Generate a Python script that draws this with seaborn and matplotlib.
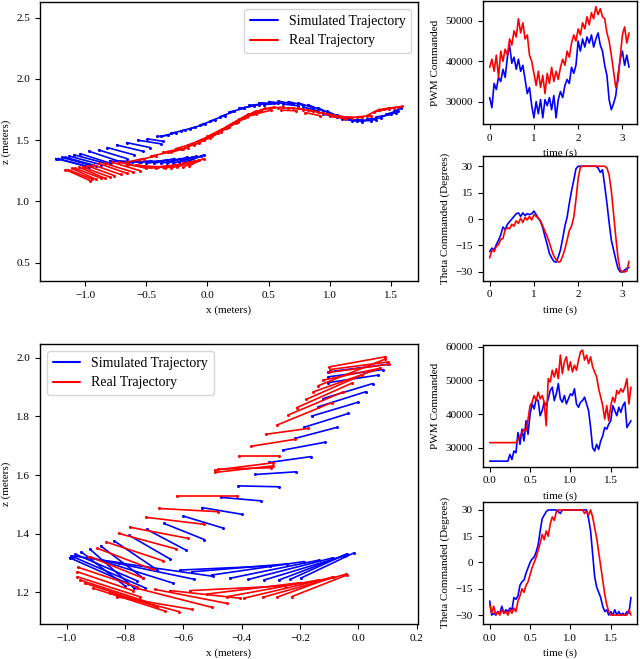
import numpy as np
import pandas as pd
import matplotlib
matplotlib.use("Agg")
import matplotlib.pyplot as plt
from matplotlib.lines import Line2D
import seaborn as sns

# ---------------- data ----------------
# trajectory segments: (x_start, z_start, x_end, z_end) in meters
sim_top_segments = [
    (-1.24, 1.35, -1.00, 1.29), (-1.22, 1.35, -0.97, 1.28), (-1.19, 1.36, -0.94, 1.29),
    (-1.16, 1.36, -0.91, 1.29), (-1.13, 1.37, -0.87, 1.30), (-1.09, 1.38, -0.83, 1.31),
    (-1.04, 1.39, -0.79, 1.31), (-0.97, 1.41, -0.73, 1.33), (-0.89, 1.42, -0.66, 1.35),
    (-0.82, 1.44, -0.60, 1.38), (-0.74, 1.46, -0.53, 1.41), (-0.66, 1.48, -0.47, 1.44),
    (-0.57, 1.50, -0.38, 1.47), (-0.49, 1.51, -0.36, 1.49), (-0.41, 1.53, -0.32, 1.54),
    (-0.38, 1.530, -0.26, 1.560), (-0.30, 1.556, -0.18, 1.583), (-0.22, 1.575, -0.10, 1.605),
    (-0.14, 1.595, -0.02, 1.630), (-0.06, 1.624, 0.06, 1.665), (0.02, 1.655, 0.14, 1.700),
    (0.10, 1.690, 0.22, 1.735), (0.18, 1.730, 0.30, 1.760), (0.26, 1.760, 0.38, 1.780),
    (0.34, 1.785, 0.46, 1.795), (0.42, 1.805, 0.54, 1.800), (0.50, 1.815, 0.62, 1.800),
    (0.58, 1.818, 0.70, 1.795), (0.66, 1.815, 0.78, 1.785), (0.74, 1.805, 0.86, 1.765),
    (0.82, 1.790, 0.94, 1.740), (0.90, 1.765, 1.02, 1.710), (0.98, 1.735, 1.10, 1.680),
    (1.06, 1.705, 1.18, 1.660), (1.14, 1.682, 1.26, 1.652), (1.22, 1.668, 1.34, 1.660),
    (1.30, 1.672, 1.42, 1.680), (1.38, 1.690, 1.50, 1.710), (1.46, 1.712, 1.56, 1.740),
    (1.52, 1.735, 1.58, 1.760),
    (0.30, 1.765, 0.42, 1.790), (0.46, 1.790, 0.58, 1.800), (0.62, 1.795, 0.74, 1.780),
    (0.78, 1.770, 0.90, 1.740), (0.94, 1.715, 1.06, 1.685), (1.10, 1.672, 1.22, 1.655),
    (1.26, 1.655, 1.38, 1.668), (1.42, 1.690, 1.54, 1.725),
    (-0.80, 1.33, -0.62, 1.32), (-0.72, 1.33, -0.54, 1.32), (-0.64, 1.32, -0.46, 1.33),
    (-0.56, 1.32, -0.40, 1.33), (-0.50, 1.31, -0.33, 1.34), (-0.44, 1.31, -0.27, 1.35),
    (-0.38, 1.31, -0.22, 1.35), (-0.33, 1.31, -0.17, 1.36), (-0.28, 1.31, -0.13, 1.36),
    (-0.23, 1.32, -0.09, 1.37), (-0.19, 1.32, -0.05, 1.37), (-0.15, 1.33, -0.03, 1.38),
]
real_top_segments = [
    (-1.16, 1.26, -0.96, 1.17), (-1.14, 1.26, -0.94, 1.18), (-1.11, 1.27, -0.91, 1.18),
    (-1.08, 1.27, -0.87, 1.19), (-1.05, 1.28, -0.84, 1.19), (-1.02, 1.28, -0.80, 1.20),
    (-0.98, 1.29, -0.76, 1.21), (-0.94, 1.30, -0.71, 1.22), (-0.89, 1.31, -0.66, 1.23),
    (-0.84, 1.31, -0.61, 1.24), (-0.78, 1.32, -0.55, 1.25), (-0.72, 1.32, -0.50, 1.27),
    (-0.66, 1.30, -0.48, 1.28), (-0.58, 1.30, -0.42, 1.27), (-0.52, 1.29, -0.36, 1.28),
    (-0.46, 1.28, -0.30, 1.29), (-0.40, 1.28, -0.25, 1.30), (-0.35, 1.27, -0.20, 1.31),
    (-0.30, 1.27, -0.16, 1.32), (-0.25, 1.28, -0.11, 1.33), (-0.20, 1.28, -0.07, 1.34),
    (-0.15, 1.29, -0.03, 1.35),
    (-0.66, 1.32, -0.52, 1.35), (-0.56, 1.34, -0.42, 1.37), (-0.46, 1.37, -0.32, 1.40),
    (-0.36, 1.40, -0.22, 1.43), (-0.26, 1.43, -0.12, 1.47), (-0.16, 1.46, -0.03, 1.51),
    (-0.08, 1.49, 0.05, 1.55), (0.00, 1.53, 0.12, 1.59), (0.07, 1.56, 0.19, 1.63),
    (0.14, 1.60, 0.26, 1.67), (0.21, 1.64, 0.33, 1.71), (0.28, 1.68, 0.40, 1.74),
    (0.35, 1.71, 0.47, 1.76), (0.42, 1.74, 0.54, 1.77), (0.50, 1.76, 0.62, 1.77),
    (0.58, 1.765, 0.70, 1.76), (0.66, 1.765, 0.78, 1.75), (0.74, 1.76, 0.86, 1.735),
    (0.82, 1.745, 0.94, 1.72), (0.90, 1.73, 1.02, 1.705), (0.98, 1.715, 1.10, 1.69),
    (1.06, 1.70, 1.18, 1.68), (1.14, 1.69, 1.26, 1.685), (1.22, 1.69, 1.34, 1.70),
    (1.30, 1.70, 1.40, 1.75), (1.36, 1.73, 1.48, 1.755), (1.40, 1.75, 1.52, 1.765),
    (1.44, 1.755, 1.56, 1.77), (1.48, 1.76, 1.59, 1.775),
    (-0.30, 1.40, -0.16, 1.44), (-0.20, 1.43, -0.07, 1.48), (-0.11, 1.46, 0.02, 1.52),
    (-0.03, 1.50, 0.09, 1.56), (0.04, 1.53, 0.16, 1.60), (0.11, 1.57, 0.23, 1.64),
    (0.18, 1.61, 0.30, 1.68), (0.25, 1.65, 0.37, 1.71), (0.32, 1.69, 0.44, 1.735),
    (0.40, 1.715, 0.52, 1.745), (0.60, 1.745, 0.72, 1.74), (0.80, 1.725, 0.92, 1.70),
    (1.00, 1.695, 1.12, 1.675),
]
sim_bottom_segments = [
    (-0.103, 1.952, 0.103, 1.978), (-0.103, 1.935, 0.086, 1.960), (-0.105, 1.915, 0.069, 1.941),
    (-0.120, 1.861, 0.049, 1.912), (-0.137, 1.833, 0.025, 1.884), (-0.160, 1.801, -0.002, 1.848),
    (-0.186, 1.763, -0.034, 1.810), (-0.217, 1.725, -0.072, 1.763), (-0.259, 1.685, -0.114, 1.712),
    (-0.305, 1.643, -0.162, 1.663), (-0.354, 1.602, -0.214, 1.611), (-0.411, 1.563, -0.272, 1.560),
    (-0.472, 1.524, -0.334, 1.512), (-0.536, 1.489, -0.398, 1.466), (-0.600, 1.460, -0.463, 1.419),
    (-0.666, 1.435, -0.528, 1.380), (-0.726, 1.415, -0.591, 1.344), (-0.785, 1.394, -0.646, 1.314),
    (-0.838, 1.376, -0.689, 1.276), (-0.883, 1.358, -0.737, 1.248), (-0.920, 1.347, -0.768, 1.214),
    (-0.950, 1.338, -0.800, 1.222), (-0.970, 1.330, -0.760, 1.240), (-0.980, 1.322, -0.730, 1.215),
    (-0.990, 1.318, -0.790, 1.230), (-0.985, 1.325, -0.810, 1.300),
    (-0.920, 1.320, -0.634, 1.231), (-0.880, 1.310, -0.565, 1.245), (-0.820, 1.300, -0.500, 1.255),
    (-0.611, 1.276, -0.303, 1.290), (-0.571, 1.270, -0.243, 1.297), (-0.503, 1.259, -0.186, 1.305),
    (-0.440, 1.248, -0.134, 1.310), (-0.377, 1.244, -0.086, 1.318), (-0.323, 1.242, -0.046, 1.325),
    (-0.272, 1.242, -0.046, 1.327), (-0.234, 1.244, -0.040, 1.331), (-0.198, 1.248, -0.014, 1.335),
]
real_bottom_segments = [
    (-0.099, 1.969, 0.091, 2.003), (-0.097, 1.960, 0.103, 1.986), (-0.100, 1.950, 0.105, 1.978),
    (-0.120, 1.924, 0.074, 1.964), (-0.137, 1.905, 0.091, 1.995), (-0.154, 1.884, 0.074, 1.964),
    (-0.179, 1.858, 0.011, 1.941), (-0.211, 1.830, -0.023, 1.913), (-0.240, 1.805, -0.051, 1.884),
    (-0.280, 1.770, -0.091, 1.847), (-0.318, 1.739, -0.171, 1.759), (-0.369, 1.698, -0.217, 1.722),
    (-0.410, 1.665, -0.271, 1.665), (-0.491, 1.617, -0.291, 1.642), (-0.491, 1.609, -0.294, 1.631),
    (-0.480, 1.620, -0.300, 1.625),
    (-0.623, 1.528, -0.417, 1.528), (-0.682, 1.486, -0.480, 1.475), (-0.729, 1.456, -0.529, 1.432),
    (-0.783, 1.422, -0.583, 1.384), (-0.822, 1.401, -0.625, 1.348), (-0.865, 1.372, -0.671, 1.308),
    (-0.895, 1.350, -0.705, 1.278), (-0.922, 1.322, -0.737, 1.248), (-0.960, 1.285, -0.760, 1.219),
    (-0.963, 1.270, -0.774, 1.206), (-0.963, 1.253, -0.749, 1.185), (-0.954, 1.242, -0.726, 1.168),
    (-0.937, 1.231, -0.691, 1.151), (-0.909, 1.214, -0.663, 1.136), (-0.851, 1.197, -0.614, 1.134),
    (-0.829, 1.185, -0.571, 1.142), (-0.760, 1.214, -0.503, 1.149), (-0.697, 1.210, -0.449, 1.162),
    (-0.646, 1.206, -0.406, 1.180),
    (-0.577, 1.206, -0.251, 1.222), (-0.520, 1.194, -0.198, 1.233), (-0.451, 1.185, -0.137, 1.242),
    (-0.392, 1.180, -0.091, 1.251), (-0.328, 1.183, -0.042, 1.262), (-0.280, 1.183, -0.086, 1.253),
    (-0.229, 1.185, -0.040, 1.259),
]

# commanded inputs, top run (sampled every 0.05 s)
top_dt = 0.05
pwm_sim_top = [31000, 28500, 34500, 33000, 36000, 35000, 38000, 36000, 41000, 44000,
               39500, 41000, 38000, 40500, 37500, 39000, 35500, 32000, 33500, 29000,
               26000, 30000, 27000, 30500, 26000, 30500, 29000, 31000, 28000, 31500,
               26000, 30500, 32500, 31000, 34000, 35500, 34500, 38500, 37000, 39000,
               45000, 42500, 45500, 43500, 46000, 44500, 46500, 43500, 45500, 47000,
               44000, 42500, 39000, 36500, 30500, 28000, 29500, 31500, 36500, 40500,
               42500, 39000, 41500, 38500]
pwm_real_top = [38500, 40500, 37500, 41500, 36000, 42500, 40000, 43000, 41500, 45500,
                44000, 47500, 46000, 50500, 47000, 49500, 45500, 46500, 41500, 40000,
                37000, 34000, 37500, 33500, 36500, 32000, 37000, 34500, 38500, 35000,
                37500, 35500, 38500, 40500, 39000, 42500, 41000, 44500, 46500, 45000,
                48000, 46500, 49500, 48000, 51000, 49000, 52000, 50500, 53500, 51500,
                53000, 51000, 50500, 47000, 45000, 41500, 37500, 33500, 35000, 41000,
                46500, 48500, 44500, 47000]
theta_sim_top = [-18.5, -16.5, -17.5, -14.5, -12, -9, -4.5, -6, -3, -1.5,
                 0, 1.5, 3, 3.5, 1.5, 3.5, 2, 3, 2.5, 3,
                 4.5, 2.5, 0.5, -1.5, -5, -10, -14.5, -19.5, -22, -24,
                 -24.5, -21.5, -17.5, -11, -4, 1, 9, 16, 22, 28.5,
                 30, 30, 30, 30, 30, 30, 30, 30, 30, 29,
                 26.5, 28, 19, 9, -2, -12, -17.5, -23, -28, -30,
                 -30, -29, -28, -27.5]
theta_real_top = [-22, -17.5, -18.5, -15.5, -14.5, -11.5, -11, -6, -5, -5.5,
                  -3, -4, -1, -2.5, 0.5, -2, 1, -0.5, 1.5, -0.5,
                  2.5, 1.5, 0.5, -1, -4, -7, -10, -13.5, -17.5, -21,
                  -23, -24.5, -24, -21, -17, -12, -6.5, -4, 1, 11,
                  23, 29.5, 30, 30, 30, 30, 30, 30, 30, 30,
                  30, 30, 30, 29, 25, 16, 3, -10, -22, -29,
                  -30, -30, -29.5, -24]

# commanded inputs, bottom run (sampled every 0.025 s)
bottom_dt = 0.025
pwm_sim_bottom = [26000, 26000, 26000, 26000, 26000, 26000, 26000, 26000, 26000, 26000,
                  28000, 26500, 29000, 28500, 34500, 31000, 35500, 32000, 38000, 34000,
                  40000, 43000, 41500, 44500, 44000, 39500, 41000, 43500, 42500, 44500,
                  47000, 48000, 44000, 46000, 49000, 44500, 43500, 45500, 43000, 44500,
                  46000, 45500, 47500, 43000, 42000, 43500, 44000, 45000, 43000, 41000,
                  36000, 30000, 29000, 31000, 29500, 32000, 33500, 36000, 35500, 37000,
                  38000, 42500, 41000, 39500, 42000, 40500, 42500, 43500, 36000, 37000,
                  38000]
pwm_real_bottom = [31500, 31500, 31500, 31500, 31500, 31500, 31500, 31500, 31500, 31500,
                   31500, 31500, 31500, 31500, 32500, 33500, 34500, 35500, 35000, 38500,
                   42500, 43500, 45500, 44000, 46500, 44500, 45500, 43500, 36500, 50500,
                   49500, 53000, 51000, 53500, 50500, 57500, 52000, 55500, 57000, 53000,
                   55500, 52500, 54500, 53000, 56000, 58500, 59000, 56000, 57500, 55000,
                   57000, 54000, 52500, 51000, 47500, 45000, 42500, 38500, 42500, 38000,
                   42500, 45000, 43500, 47000, 46000, 47500, 46500, 48000, 50500, 43000,
                   48000]
theta_sim_bottom = [-22, -30, -29, -30, -28, -29, -25, -29, -27, -28,
                    -26, -27, -20, -21, -19, -13, -11, -10, -6, -3,
                    0, 2, 3, 6, 10, 18, 25, 27, 29, 30,
                    30, 30, 30, 30, 29, 28, 30, 30, 30, 30,
                    30, 30, 30, 30, 30, 30, 30, 30, 30, 25,
                    18, 5, -8, -14, -17, -20, -25, -28, -27, -30,
                    -28, -30, -27, -30, -28, -30, -29, -30, -28, -29,
                    -20]
theta_real_bottom = [-24, -29, -25, -30, -28, -30, -27, -29, -28, -30,
                     -27, -29, -26, -28, -22, -19, -15, -17, -13, -11,
                     -7, -3, 0, 3, 7, 11, 16, 13, 18, 15,
                     22, 26, 24, 29, 30, 30, 30, 30, 30, 30,
                     30, 30, 30, 30, 30, 30, 30, 28, 29.5, 27,
                     30, 26, 20, 14, 6, -2, -10, -18, -24, -28,
                     -30, -30, -30, -30, -30, -30, -30, -30, -30, -27,
                     -30]

legend_labels = ["Simulated Trajectory", "Real Trajectory"]
sim_color = "#0000ff"
real_color = "#ff0000"

# ---------------- style ----------------
sns.set_style("ticks")
plt.rcParams["font.family"] = ["Liberation Serif", "DejaVu Serif"]
plt.rcParams.update({
    "axes.edgecolor": "black", "axes.linewidth": 1.0,
    "xtick.color": "black", "ytick.color": "black",
    "text.color": "black", "axes.labelcolor": "black",
    "xtick.labelsize": 8, "ytick.labelsize": 8,
    "axes.labelsize": 8, "axes.unicode_minus": True,
})

W, H = 640, 659
fig = plt.figure(figsize=(W / 100, H / 100), dpi=100)


def box(left, top, right, bottom):
    return fig.add_axes([left / W, (H - bottom) / H, (right - left) / W, (bottom - top) / H])


def seg_frame(segments):
    rows = []
    for i, (x0, z0, x1, z1) in enumerate(segments):
        rows.append((i, x0, z0))
        rows.append((i, x1, z1))
    return pd.DataFrame(rows, columns=["seg", "x", "z"])


def draw_traj(ax, sim, real):
    for segs, col in ((sim, sim_color), (real, real_color)):
        sns.lineplot(data=seg_frame(segs), x="x", y="z", units="seg", estimator=None,
                     sort=False, color=col, lw=1.2, marker="o", markersize=2.2,
                     markeredgewidth=0, legend=False, ax=ax)
    ax.set_xlabel("x (meters)")
    ax.set_ylabel("z (meters)")


def draw_series(ax, dt, sim, real):
    t_sim = np.arange(len(sim)) * dt
    t_real = np.arange(len(real)) * dt
    sns.lineplot(x=t_sim, y=sim, color=sim_color, lw=1.2, estimator=None, ax=ax)
    sns.lineplot(x=t_real, y=real, color=real_color, lw=1.2, estimator=None, ax=ax)


handles = [Line2D([], [], color=sim_color, lw=1.5), Line2D([], [], color=real_color, lw=1.5)]

# top-left trajectory
ax = box(40, 2, 418, 281)
draw_traj(ax, sim_top_segments, real_top_segments)
ax.set_xlim(-1.368, 1.72)
ax.set_ylim(0.35, 2.628)
ax.set_xticks([-1.0, -0.5, 0.0, 0.5, 1.0, 1.5])
ax.set_yticks([0.5, 1.0, 1.5, 2.0, 2.5])
ax.legend(handles, legend_labels, loc="upper right", fontsize=10)

# top-right PWM
ax = box(482.7, 1, 637, 124)
draw_series(ax, top_dt, pwm_sim_top, pwm_real_top)
ax.set_xlim(-0.158, 3.33)
ax.set_ylim(24470, 54900)
ax.set_xticks([0, 1, 2, 3])
ax.set_yticks([30000, 40000, 50000])
ax.set_xlabel("time (s)")
ax.set_ylabel("PWM Commanded")

# top-right theta
ax = box(482.7, 156, 637, 280.7)
draw_series(ax, top_dt, theta_sim_top, theta_real_top)
ax.set_xlim(-0.158, 3.33)
ax.set_ylim(-35, 35.8)
ax.set_xticks([0, 1, 2, 3])
ax.set_yticks([-30, -15, 0, 15, 30])
ax.set_xlabel("time (s)")
ax.set_ylabel("Theta Commanded (Degrees)")

# bottom-left trajectory
ax = box(40, 344, 417.7, 624)
draw_traj(ax, sim_bottom_segments, real_bottom_segments)
ax.set_xlim(-1.0915, 0.2036)
ax.set_ylim(1.092, 2.047)
ax.set_xticks([-1.0, -0.8, -0.6, -0.4, -0.2, 0.0, 0.2])
ax.set_yticks([1.2, 1.4, 1.6, 1.8, 2.0])
ax.legend(handles, legend_labels, loc="upper left", fontsize=10)

# bottom-right PWM
ax = box(482.7, 345, 637, 466.7)
draw_series(ax, bottom_dt, pwm_sim_bottom, pwm_real_bottom)
ax.set_xlim(-0.087, 1.825)
ax.set_ylim(24350, 60500)
ax.set_xticks([0.0, 0.5, 1.0, 1.5])
ax.set_yticks([30000, 40000, 50000, 60000])
ax.set_xlabel("time (s)")
ax.set_ylabel("PWM Commanded")

# bottom-right theta
ax = box(482.7, 501.7, 637, 624)
draw_series(ax, bottom_dt, theta_sim_bottom, theta_real_bottom)
ax.set_xlim(-0.087, 1.825)
ax.set_ylim(-35.1, 34.7)
ax.set_xticks([0.0, 0.5, 1.0, 1.5])
ax.set_yticks([-30, -15, 0, 15, 30])
ax.set_xlabel("time (s)")
ax.set_ylabel("Theta Commanded (Degrees)")

fig.savefig("out.png", dpi=100)
